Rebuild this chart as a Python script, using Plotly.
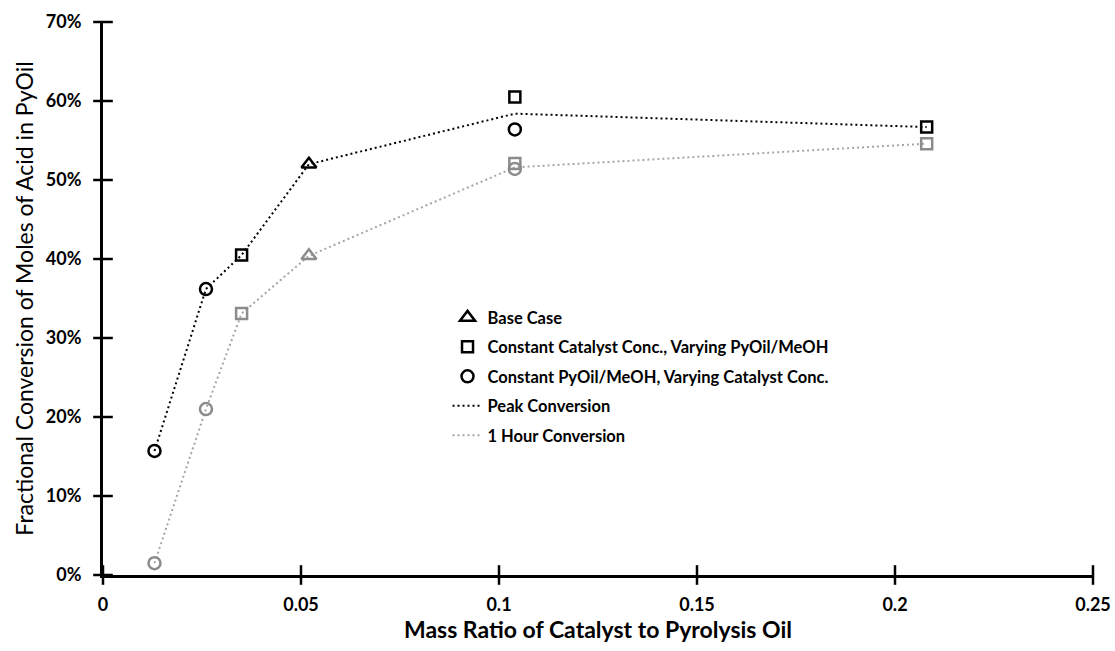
import plotly.graph_objects as go

# Data (fractional conversion)
base_x = [0.052]
base_peak = [0.520]
base_hour = [0.404]

cat_x = [0.035, 0.104, 0.208]          # Constant catalyst conc., varying PyOil/MeOH
cat_peak = [0.405, 0.605, 0.567]
cat_hour = [0.331, 0.521, 0.546]

pyoil_x = [0.013, 0.026, 0.104]        # Constant PyOil/MeOH, varying catalyst conc.
pyoil_peak = [0.157, 0.362, 0.564]
pyoil_hour = [0.015, 0.210, 0.514]

line_x = [0.013, 0.026, 0.035, 0.052, 0.104, 0.208]
peak_line = [0.157, 0.362, 0.405, 0.520, 0.584, 0.567]
hour_line = [0.015, 0.210, 0.331, 0.404, 0.516, 0.546]

x_ticks = [0, 0.05, 0.1, 0.15, 0.2, 0.25]
x_ticklabels = ["0", "0.05", "0.1", "0.15", "0.2", "0.25"]
y_ticks = [0, 0.1, 0.2, 0.3, 0.4, 0.5, 0.6, 0.7]
y_ticklabels = ["0%", "10%", "20%", "30%", "40%", "50%", "60%", "70%"]

BLACK = "#000000"
GRAY_M = "#8c8c8c"
GRAY_L = "#a6a6a6"
FONT = "Lato"

fig = go.Figure()

# lines
fig.add_trace(go.Scatter(x=line_x, y=peak_line, mode="lines", name="Peak Conversion",
                         legendgroup="g4", legendrank=4,
                         line=dict(color=BLACK, width=2, dash="2px,3px")))
fig.add_trace(go.Scatter(x=line_x, y=hour_line, mode="lines", name="1 Hour Conversion",
                         legendgroup="g5", legendrank=5,
                         line=dict(color=GRAY_L, width=2, dash="2px,3px")))

def markers(x, y, symbol, color, name, show, rank, size, group):
    fig.add_trace(go.Scatter(x=x, y=y, mode="markers", name=name, showlegend=show,
                             legendrank=rank, legendgroup=group,
                             marker=dict(symbol=symbol, size=size, color=color,
                                         line=dict(color=color, width=2.5))))

markers(base_x, base_hour, "triangle-up-open", GRAY_M, "Base Case 1h", False, 10, 13, "h1")
markers(cat_x, cat_hour, "square-open", GRAY_M, "cat hour", False, 10, 11, "h2")
markers(pyoil_x, pyoil_hour, "circle-open", GRAY_M, "pyoil hour", False, 10, 12, "h3")
markers(base_x, base_peak, "triangle-up-open", BLACK, "Base Case", True, 1, 13, "g1")
markers(cat_x, cat_peak, "square-open", BLACK,
        "Constant Catalyst Conc., Varying PyOil/MeOH", True, 2, 11, "g2")
markers(pyoil_x, pyoil_peak, "circle-open", BLACK,
        "Constant PyOil/MeOH, Varying Catalyst Conc.", True, 3, 12, "g3")

# Excel-style "cross" tick marks, placed at the tick values on each axis
fig.add_trace(go.Scatter(x=x_ticks, y=[0] * len(x_ticks), mode="markers", showlegend=False,
                         hoverinfo="skip", cliponaxis=False,
                         marker=dict(symbol="line-ns-open", size=14, color=BLACK,
                                     line=dict(color=BLACK, width=2.5))))
fig.add_trace(go.Scatter(x=[0] * len(y_ticks), y=y_ticks, mode="markers", showlegend=False,
                         hoverinfo="skip", cliponaxis=False,
                         marker=dict(symbol="line-ew-open", size=14, color=BLACK,
                                     line=dict(color=BLACK, width=2.5))))

axis_common = dict(showgrid=False, zeroline=False, linecolor=BLACK, linewidth=3,
                   ticks="outside", ticklen=7, tickwidth=0, tickcolor="rgba(0,0,0,0)",
                   tickfont=dict(family=FONT, size=18, color=BLACK, weight="bold"),
                   showline=True, automargin=False)

fig.update_layout(
    width=1115, height=651,
    margin=dict(l=103, r=22, t=22, b=76),
    plot_bgcolor="white", paper_bgcolor="white",
    font=dict(family=FONT, color=BLACK),
    xaxis=dict(range=[0, 0.25], tickvals=x_ticks, ticktext=x_ticklabels,
               ticklabelstandoff=4,
               title=dict(text="Mass Ratio of Catalyst to Pyrolysis Oil",
                          font=dict(family=FONT, size=23, color=BLACK, weight="bold"),
                          standoff=9),
               **axis_common),
    yaxis=dict(range=[0, 0.7], tickvals=y_ticks, ticktext=y_ticklabels,
               ticklabelstandoff=8,
               title=dict(text="Fractional Conversion of Moles of Acid in PyOil",
                          font=dict(family=FONT, size=23, color=BLACK), standoff=6),
               **axis_common),
    legend=dict(x=0.348, y=0.497, xanchor="left", yanchor="top", bgcolor="rgba(0,0,0,0)",
                font=dict(family=FONT, size=16.5, color=BLACK, weight="bold"),
                tracegroupgap=5, itemwidth=30),
    showlegend=True,
)

fig.write_html("out.html")
